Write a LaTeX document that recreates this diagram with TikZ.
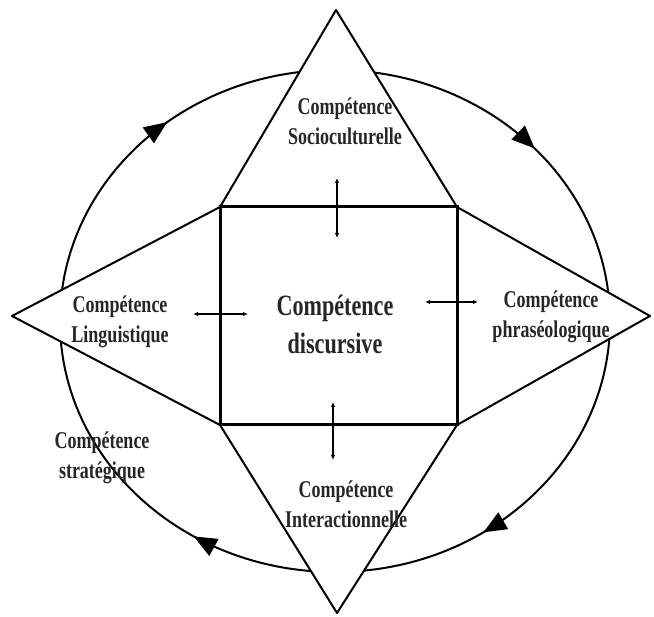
\documentclass[tikz,border=0pt]{standalone}
\usepackage{fontspec}
\setmainfont{Liberation Serif}[FakeStretch=0.75]
\usetikzlibrary{arrows.meta,decorations.markings}

\tikzset{
  comptext/.style={align=center, text=black!85, font=\bfseries\fontsize{24}{30}\selectfont},
  maintext/.style={align=center, text=black!85, font=\bfseries\fontsize{29.5}{38}\selectfont},
  linkarrow/.style={{Latex[length=5pt,width=4.5pt]}-{Latex[length=5pt,width=4.5pt]}, line width=1.1pt},
  cyclearrow/.style={line width=2pt, postaction={decorate}, decoration={markings,
      mark=at position 0.156 with {\arrow{Triangle[length=23pt,width=19pt]}},
      mark=at position 0.339 with {\arrow{Triangle[length=23pt,width=19pt]}},
      mark=at position 0.642 with {\arrow{Triangle[length=23pt,width=19pt]}},
      mark=at position 0.883 with {\arrow{Triangle[length=23pt,width=19pt]}}}},
  wing/.style={line width=2pt, fill=white, line join=round}
}

\begin{document}
\begin{tikzpicture}[x=1pt,y=-1pt]
  \useasboundingbox[fill=white] (0,0) rectangle (654,617);

  % corners of the square and tips of the four triangles
  \coordinate (nw) at (220,207);
  \coordinate (ne) at (457,207);
  \coordinate (sw) at (220,425);
  \coordinate (se) at (457,425);
  \coordinate (tipN) at (336,10);
  \coordinate (tipS) at (337,613);
  \coordinate (tipW) at (12,316);
  \coordinate (tipE) at (650,316);

  % outer cycle
  \draw[cyclearrow] (335,321) ellipse [x radius=275, y radius=251];

  \draw[wing] (nw) -- (tipN) -- (ne) -- cycle;
  \draw[wing] (sw) -- (tipS) -- (se) -- cycle;
  \draw[wing] (nw) -- (tipW) -- (sw) -- cycle;
  \draw[wing] (ne) -- (tipE) -- (se) -- cycle;

  \draw[line width=3pt] (nw) rectangle (se);

  \node[maintext] (disc) at (335,324) {Compétence\\discursive};
  \node[comptext] (socio) at (345,121) {Compétence\\Socioculturelle};
  \node[comptext] (ling) at (120,322) {Compétence\\Linguistique};
  \node[comptext] (phras) at (551,317) {Compétence\\phraséologique};
  \node[comptext] (inter) at (346,504) {Compétence\\Interactionnelle};
  \node[comptext] (strat) at (102,458) {Compétence\\stratégique};

  % links to the centre
  \coordinate (a1) at (337,178);
  \coordinate (a2) at (337,238);
  \coordinate (b1) at (333,402);
  \coordinate (b2) at (333,460);
  \coordinate (c1) at (193,314);
  \coordinate (c2) at (248,314);
  \coordinate (d1) at (425,302);
  \coordinate (d2) at (478,302);
  \draw[linkarrow] (a1) -- (a2);
  \draw[linkarrow] (b1) -- (b2);
  \draw[linkarrow] (c1) -- (c2);
  \draw[linkarrow] (d1) -- (d2);
\end{tikzpicture}
\end{document}
